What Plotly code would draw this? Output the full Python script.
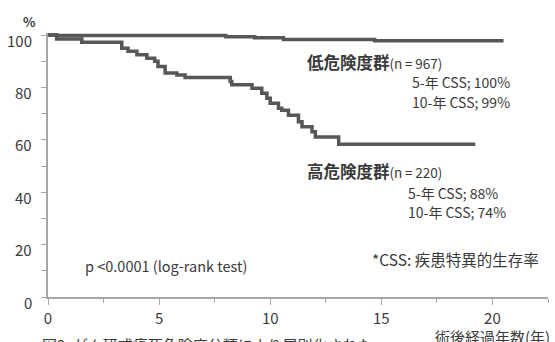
import plotly.graph_objects as go

# Kaplan-Meier step data (years after surgery, cause-specific survival %)
low_risk_years = [0, 0.4, 8.0, 9.3, 10.6, 14.7, 20.5]
low_risk_surv = [100, 99.8, 99.4, 99.0, 98.3, 97.8, 97.8]

high_risk_years = [0, 0.39, 1.52, 3.32, 3.60, 4.00, 4.45, 4.80, 4.95, 5.27, 5.80,
                   6.17, 8.20, 8.27, 9.18, 9.62, 9.85, 10.00, 10.37, 10.52, 10.82,
                   11.27, 11.43, 11.88, 12.03, 13.08, 19.23]
high_risk_surv = [100, 98.5, 97.3, 95.0, 93.8, 92.5, 91.2, 90.0, 88.0, 85.5, 84.8,
                  83.8, 82.3, 81.0, 79.7, 77.8, 75.9, 74.0, 72.1, 71.3, 69.4,
                  66.9, 65.0, 63.1, 61.1, 58.3, 58.3]

x_ticks = [0, 5, 10, 15, 20]
y_ticks = [0, 20, 40, 60, 80, 100]

LINE = "#575757"
TEXT = "#3a3a3a"
AXIS = "#a6a6a6"
FONT = "Noto Sans CJK JP"

W, H = 555, 342
L, R, T, B = 48, 7, 33, 45
PW, PH = W - L - R, H - T - B


def px(x, y):
    """Pixel position on the page -> paper coordinates."""
    return (x - L) / PW, (H - B - y) / PH


def group_label(name, n):
    return (f"<b>{name}</b><span style='font-size:13.5px'>"
            f"(n\u2009=\u2009{n})</span>")


fig = go.Figure()
for xs, ys in [(low_risk_years, low_risk_surv), (high_risk_years, high_risk_surv)]:
    fig.add_trace(go.Scatter(x=xs, y=ys, mode="lines", line_shape="hv",
                             line=dict(color=LINE, width=3.5), hoverinfo="skip",
                             showlegend=False))

notes = [
    (group_label("低危険度群", 967), 305, 62, "left", 16.5),
    ("5-年 CSS; 100%", 410, 82, "left", 14),
    ("10-年 CSS; 99%", 410, 102, "left", 14),
    (group_label("高危険度群", 220), 305, 171, "left", 16.5),
    ("5-年 CSS; 88%", 406, 193, "left", 14),
    ("10-年 CSS; 74%", 406, 212, "left", 14),
    ("p <0.0001 (log-rank test)", 83, 265, "left", 14.5),
    ("*CSS: 疾患特異的生存率", 370, 259, "left", 15.5),
    ("術後経過年数(年)", 433, 336, "left", 15),
    ("図2. がん研式癌死危険度分類により層別化された", 40, 344, "left", 15),
    ("<b>%</b>", 29, 22, "center", 13),
]
for text, x, y, anchor, size in notes:
    ax, ay = px(x, y)
    fig.add_annotation(text=text, x=ax, y=ay, xref="paper", yref="paper",
                       xanchor=anchor, yanchor="middle", showarrow=False,
                       font=dict(family=FONT, size=size, color=TEXT))

# y tick labels sit a few pixels below their tick marks
for v in y_ticks:
    fig.add_annotation(text=str(v), x=px(34, 0)[0], y=v, xref="paper", yref="y",
                       xanchor="right", yanchor="middle", yshift=-5, showarrow=False,
                       font=dict(family=FONT, size=15, color=TEXT))

fig.update_xaxes(range=[0, 22.5], tickvals=x_ticks, ticks="outside", ticklen=6,
                 tickcolor=AXIS, showline=True, linecolor=AXIS, linewidth=1.5,
                 showgrid=False, zeroline=False, automargin=False,
                 minor=dict(dtick=2.5, tick0=0, ticks="outside", ticklen=4, tickcolor=AXIS),
                 tickfont=dict(family=FONT, size=15, color=TEXT), ticklabelstandoff=1)
fig.update_yaxes(range=[0, 100.8], tickvals=y_ticks, ticks="outside", ticklen=5,
                 tickcolor=AXIS, showline=True, linecolor=AXIS, linewidth=1.5,
                 showgrid=False, zeroline=False, automargin=False, showticklabels=False,
                 minor=dict(dtick=10, tick0=0, ticks="outside", ticklen=5, tickcolor=AXIS))

fig.update_layout(width=W, height=H, margin=dict(l=L, r=R, t=T, b=B, autoexpand=False),
                  paper_bgcolor="white", plot_bgcolor="white")
fig.write_html("out.html")
